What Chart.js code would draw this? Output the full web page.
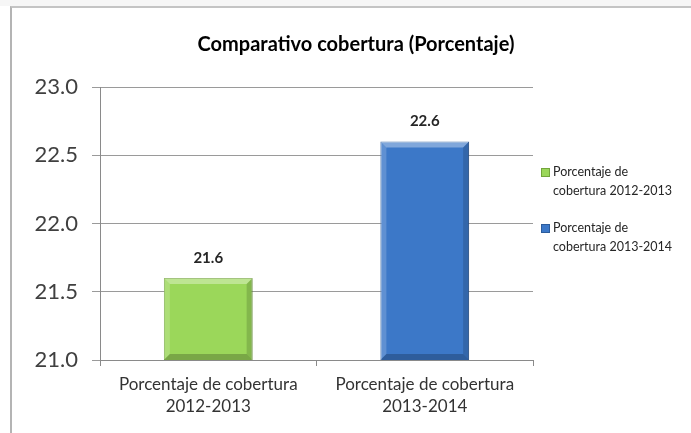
<!DOCTYPE html>
<html>
<head>
<meta charset="utf-8">
<script src="https://cdn.jsdelivr.net/npm/chart.js@4.4.1/dist/chart.umd.min.js"></script>
<style>
  body { margin: 0; background: #fff; font-family: Lato, "Open Sans", sans-serif; }
  #wrap { position: relative; width: 691px; height: 433px; overflow: hidden; }
  #topstrip { position: absolute; left: 0; top: 0; width: 691px; height: 6px; background: #f6f6f6; }
  #frame { position: absolute; left: 10px; top: 6px; right: -2px; bottom: -2px;
           border-top: 2px solid #c4c4c4; border-left: 2px solid #b4b4b4; background: #fff; }
  #chart { position: absolute; left: 0; top: 0; }
  #title { position: absolute; left: 0; width: 712px; top: 31px; text-align: center;
           font: bold 20px Lato, sans-serif; line-height: 24px; color: #000; }
  #legend { position: absolute; left: 540px; top: 162px; width: 140px; }
  .item { display: flex; align-items: flex-start; margin-bottom: 18px;
          font: 12.5px Lato, sans-serif; line-height: 19px; color: #262626; }
  .box { width: 7px; height: 7px; margin: 6px 3px 0 1px; flex: none; border: 1px solid; }
</style>
</head>
<body>
<div id="wrap">
  <div id="topstrip"></div>
  <div id="frame"></div>
  <canvas id="chart" width="691" height="433"></canvas>
  <div id="title">Comparativo cobertura (Porcentaje)</div>
  <div id="legend"></div>
</div>
<script>
const categories = [
  ["Porcentaje de cobertura", "2012-2013"],
  ["Porcentaje de cobertura", "2013-2014"],
];
const legendLabels = [
  ["Porcentaje de", "cobertura 2012-2013"],
  ["Porcentaje de", "cobertura 2013-2014"],
];
const values = [21.6, 22.6];
const yTicks = [21.0, 21.5, 22.0, 22.5, 23.0];
const barColors = ["#9bd75a", "#3c78c8"];
const barBorders = ["#73a53c", "#2c5c9c"];

// bevel overlay + value labels
const barExtras = {
  id: "barExtras",
  afterDatasetsDraw(chart) {
    const ctx = chart.ctx;
    const meta = chart.getDatasetMeta(0);
    meta.data.forEach((bar, i) => {
      const l = bar.x - bar.width / 2;
      const r = bar.x + bar.width / 2;
      const t = bar.y;
      const b = Math.min(bar.base, chart.chartArea.bottom);
      const bw = 6;
      ctx.save();
      // top bevel
      ctx.fillStyle = "rgba(255,255,255,0.35)";
      ctx.beginPath();
      ctx.moveTo(l, t); ctx.lineTo(r, t); ctx.lineTo(r - bw, t + bw); ctx.lineTo(l + bw, t + bw);
      ctx.fill();
      // left bevel
      ctx.fillStyle = "rgba(255,255,255,0.18)";
      ctx.beginPath();
      ctx.moveTo(l, t); ctx.lineTo(l + bw, t + bw); ctx.lineTo(l + bw, b - bw); ctx.lineTo(l, b);
      ctx.fill();
      // right bevel
      ctx.fillStyle = "rgba(0,0,0,0.15)";
      ctx.beginPath();
      ctx.moveTo(r, t); ctx.lineTo(r - bw, t + bw); ctx.lineTo(r - bw, b - bw); ctx.lineTo(r, b);
      ctx.fill();
      // bottom bevel
      ctx.fillStyle = "rgba(0,0,0,0.22)";
      ctx.beginPath();
      ctx.moveTo(l, b); ctx.lineTo(l + bw, b - bw); ctx.lineTo(r - bw, b - bw); ctx.lineTo(r, b);
      ctx.fill();
      // value label
      ctx.fillStyle = "#262626";
      ctx.font = "bold 15px Lato, sans-serif";
      ctx.textAlign = "center";
      ctx.textBaseline = "middle";
      ctx.fillText(values[i].toFixed(1), bar.x, t - 20);
      ctx.restore();
    });
  },
};

new Chart(document.getElementById("chart"), {
  type: "bar",
  data: {
    labels: categories,
    datasets: [
      {
        data: values,
        backgroundColor: barColors,
        borderColor: barBorders,
        borderWidth: 1,
        barPercentage: 0.41,
        categoryPercentage: 1,
      },
    ],
  },
  options: {
    responsive: false,
    animation: false,
    layout: { padding: { left: 12, right: 158, top: 87, bottom: 0 } },
    plugins: {
      legend: { display: false },
      title: { display: false },
      tooltip: { enabled: false },
    },
    scales: {
      y: {
        min: 21,
        max: 23,
        afterBuildTicks: (scale) => {
          scale.ticks = yTicks.map((v) => ({ value: v }));
        },
        afterFit: (scale) => {
          scale.width = 88;
        },
        ticks: {
          callback: (v) => Number(v).toFixed(1),
          color: "#404040",
          font: { family: "Lato", size: 22 },
          padding: 14,
        },
        grid: { color: "#9a9a9a", tickLength: 8 },
        border: { color: "#8a8a8a" },
      },
      x: {
        afterFit: (scale) => {
          scale.height = 73;
        },
        ticks: {
          color: "#333333",
          font: { family: "Lato", size: 17, lineHeight: 1.3 },
          padding: 7,
        },
        grid: { drawOnChartArea: false, offset: true, tickLength: 6, color: "#8a8a8a" },
        border: { color: "#8a8a8a" },
      },
    },
  },
  plugins: [barExtras],
});

// html legend
const legendEl = document.getElementById("legend");
legendLabels.forEach((lines, i) => {
  const item = document.createElement("div");
  item.className = "item";
  const box = document.createElement("span");
  box.className = "box";
  box.style.background = barColors[i];
  box.style.borderColor = barBorders[i];
  const text = document.createElement("span");
  text.innerHTML = lines.join("<br>");
  item.appendChild(box);
  item.appendChild(text);
  legendEl.appendChild(item);
});
</script>
</body>
</html>
